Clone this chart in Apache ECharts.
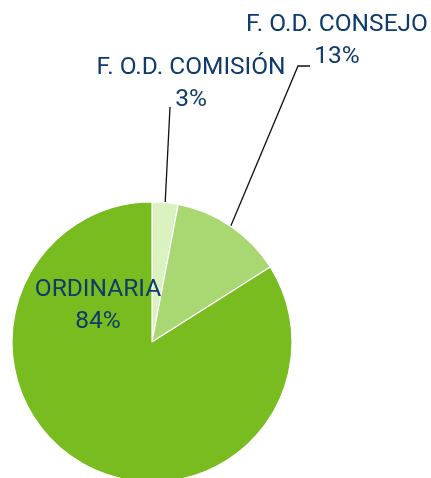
<!DOCTYPE html>
<html>
<head>
<meta charset="utf-8">
<script src="https://cdn.jsdelivr.net/npm/echarts@6/dist/echarts.min.js"></script>
<style>
  html, body { margin: 0; padding: 0; background: #fff; }
  #chart { width: 431px; height: 478px; }
</style>
</head>
<body>
<div id="chart"></div>
<script>
// datos del gráfico
const categories = ['F. O.D. COMISIÓN', 'F. O.D. CONSEJO', 'ORDINARIA'];
const values = [3, 13, 84];
const colors = ['#d9f2bf', '#a9d873', '#78bc20'];

// posiciones de las etiquetas (centro del texto) y codo de la línea guía
const labelPos = [
  { x: 191, y: 84, line: [[170, 107]] },
  { x: 337, y: 41, line: [[298, 66], [310, 66]] },
  { x: 98, y: 306, line: null }
];

const chart = echarts.init(document.getElementById('chart'));

const option = {
  animation: false,
  series: [
    {
      type: 'pie',
      center: [152, 342],
      radius: 140,
      startAngle: 90,
      clockwise: true,
      itemStyle: {
        borderColor: '#fff',
        borderWidth: 1.2
      },
      label: {
        show: true,
        position: 'outside',
        formatter: '{b}\n{c}%',
        color: '#0e3a6c',
        fontFamily: 'Roboto',
        fontSize: 24.5,
        lineHeight: 32,
        align: 'center',
        overflow: 'none',
        width: 260
      },
      labelLine: {
        show: true,
        lineStyle: { color: '#111', width: 1.3 }
      },
      labelLayout: function (params) {
        const p = labelPos[params.dataIndex];
        const res = { x: p.x, y: p.y, align: 'center', verticalAlign: 'middle' };
        if (p.line && params.labelLinePoints) {
          res.labelLinePoints = [params.labelLinePoints[0]].concat(p.line);
        }
        return res;
      },
      data: categories.map(function (name, i) {
        const item = { name: name, value: values[i], itemStyle: { color: colors[i] } };
        if (i === 2) {
          item.labelLine = { show: false };
        }
        return item;
      })
    }
  ]
};

option && chart.setOption(option);
</script>
</body>
</html>
